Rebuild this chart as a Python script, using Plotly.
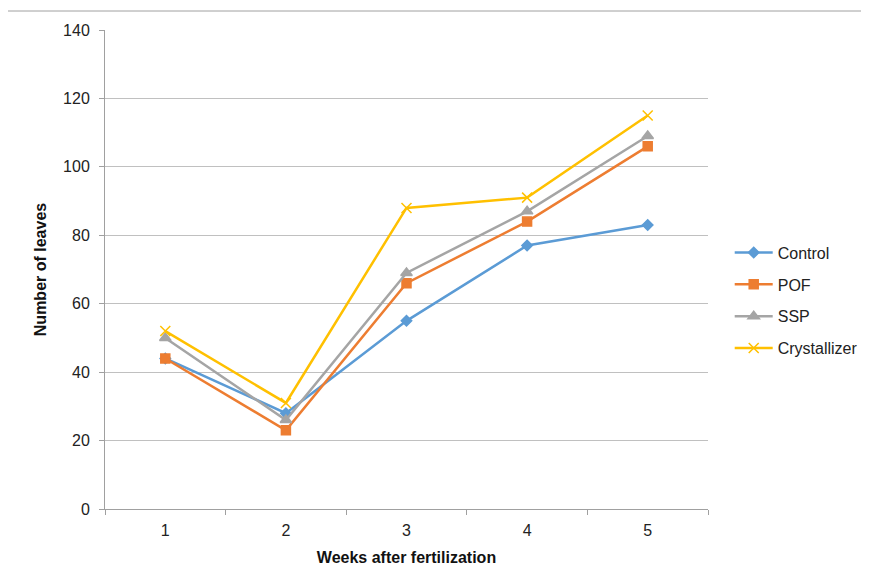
import plotly.graph_objects as go

weeks = ["1", "2", "3", "4", "5"]
control = [44, 28, 55, 77, 83]
pof = [44, 23, 66, 84, 106]
ssp = [50, 26, 69, 87, 109]
crystallizer = [52, 31, 88, 91, 115]

series = [
    ("Control", control, "#5B9BD5", "diamond", 8),
    ("POF", pof, "#ED7D31", "square", 9),
    ("SSP", ssp, "#A5A5A5", "triangle-up", 10),
    ("Crystallizer", crystallizer, "#FFC000", "x-thin-open", 10),
]

FONT = "Liberation Sans Narrow, Arial Narrow, sans-serif"

fig = go.Figure()
for name, vals, color, sym, size in series:
    fig.add_trace(go.Scatter(
        x=weeks, y=vals, name=name, mode="lines+markers",
        legendgroup=name,
        line=dict(color=color, width=2.5),
        marker=dict(symbol=sym, size=size, color=color,
                    line=dict(color=color, width=1.5)),
    ))

# page body has an 8px margin, so the figure is made 8px smaller
fig.update_layout(
    width=861, height=574,
    margin=dict(l=97, r=161, t=22, b=73, autoexpand=False),
    paper_bgcolor="white", plot_bgcolor="white",
    font=dict(family=FONT, size=15, color="#222222"),
    showlegend=True,
    legend=dict(x=1.036, y=0.435, xanchor="left", yanchor="middle",
                font=dict(family=FONT, size=16, color="#222222"),
                tracegroupgap=8, itemwidth=38,
                bgcolor="rgba(0,0,0,0)"),
    xaxis=dict(
        type="category", range=[-0.5, 4.5],
        tickson="boundaries", ticks="outside", ticklen=5,
        tickcolor="#a0a0a0", showgrid=False,
        showline=True, linecolor="#a0a0a0", linewidth=1,
        ticklabelstandoff=7,
        tickfont=dict(family=FONT, size=16, color="#222222"),
        title=dict(text="<b>Weeks after fertilization</b>",
                   font=dict(family=FONT, size=16, color="#111111"),
                   standoff=13),
    ),
    yaxis=dict(
        range=[0, 140], dtick=20, tick0=0,
        ticks="outside", ticklen=5, tickcolor="#a0a0a0",
        showgrid=True, gridcolor="#c0c0c0", gridwidth=1,
        showline=True, linecolor="#a0a0a0", linewidth=1,
        zeroline=False, ticklabelstandoff=6,
        tickfont=dict(family=FONT, size=16, color="#222222"),
        title=dict(text="<b>Number of leaves</b>",
                   font=dict(family=FONT, size=16, color="#111111"),
                   standoff=12),
    ),
    shapes=[dict(type="rect", xref="paper", yref="paper",
                 x0=(5 - 105) / 603, x1=(880 - 105) / 603,
                 y0=(509 - 600) / 479, y1=(509 - 11) / 479,
                 line=dict(color="#a0a0a0", width=1), layer="below")],
)

fig.write_html("out.html")
